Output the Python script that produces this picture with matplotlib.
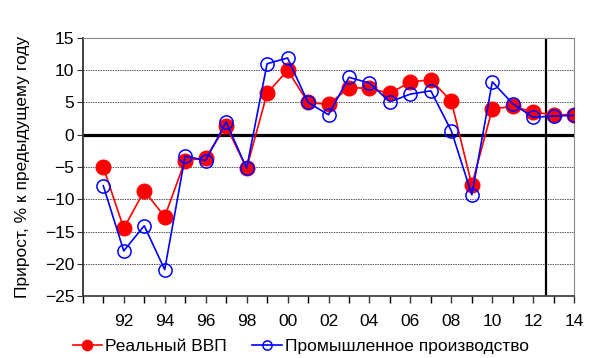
import numpy as np
import matplotlib
matplotlib.use("Agg")
import matplotlib.pyplot as plt
from matplotlib.ticker import MultipleLocator

plt.rcParams['font.family'] = ['Liberation Sans', 'DejaVu Sans']

# data
years = list(range(1991, 2015))
gdp = [-5.0, -14.5, -8.7, -12.7, -4.0, -3.6, 1.4, -5.2, 6.4, 10.0,
       5.0, 4.7, 7.3, 7.2, 6.4, 8.2, 8.5, 5.2, -7.8, 4.0,
       4.4, 3.5, 3.1, 3.1]
ind = [-7.9, -18.0, -14.1, -20.9, -3.3, -4.0, 2.0, -5.2, 11.0, 11.9,
       5.0, 3.1, 8.9, 8.0, 5.1, 6.3, 6.8, 0.6, -9.3, 8.2,
       4.8, 2.7, 2.9, 3.0]
tick_years = list(range(1992, 2015, 2))
tick_labels = ["92", "94", "96", "98", "00", "02", "04", "06", "08", "10", "12", "14"]
forecast_start = 2012.6

fig = plt.figure(figsize=(6, 3.58), dpi=100)
ax = fig.add_axes([0.138, 0.173, 0.819, 0.721])

for y in [-20, -15, -10, -5, 5, 10]:
    ax.axhline(y, color='#555555', lw=0.7, ls=(0, (1.5, 1)), zorder=1)
ax.axhline(0, color='black', lw=2.3, zorder=2)
ax.axvline(forecast_start, color='black', lw=1.6, zorder=2)

ax.plot(years, gdp, color='#ff0000', lw=1.2, marker='o', ms=10.5,
        mfc='#ff0000', mec='#ff0000', label='Реальный ВВП', zorder=3)
ax.plot(years, ind, color='#0000ff', lw=1.2, marker='o', ms=9.5,
        mfc='none', mec='#0000ff', mew=1.1, label='Промышленное производство', zorder=4)

ax.set_xlim(1990, 2014)
ax.set_ylim(-25, 15)
ax.yaxis.set_major_locator(MultipleLocator(5))
ax.set_xticks(tick_years)
ax.set_xticklabels(tick_labels)
ax.xaxis.set_minor_locator(MultipleLocator(1))
ax.tick_params(axis='both', labelsize=12.5, direction='out', color='#333333')
ax.tick_params(axis='x', which='both', length=5, width=1)
ax.tick_params(axis='x', pad=8)
ax.tick_params(axis='y', length=4, pad=2)

for s in ['top', 'right']:
    ax.spines[s].set_color('#888888')
ax.spines['left'].set_color('#333333')
ax.spines['bottom'].set_color('#444444')
ax.spines['bottom'].set_linewidth(1.3)
ax.spines['left'].set_linewidth(1.3)

ax.set_ylabel('Прирост, % к предыдущему году', fontsize=12.5, labelpad=11)

ax.legend(loc='upper left', bbox_to_anchor=(-0.035, -0.14), ncol=2, frameon=False,
          fontsize=12.5, markerscale=0.7, handlelength=1.7, handletextpad=0.15,
          columnspacing=1.5, borderaxespad=0)

fig.savefig('out.png', dpi=100)
